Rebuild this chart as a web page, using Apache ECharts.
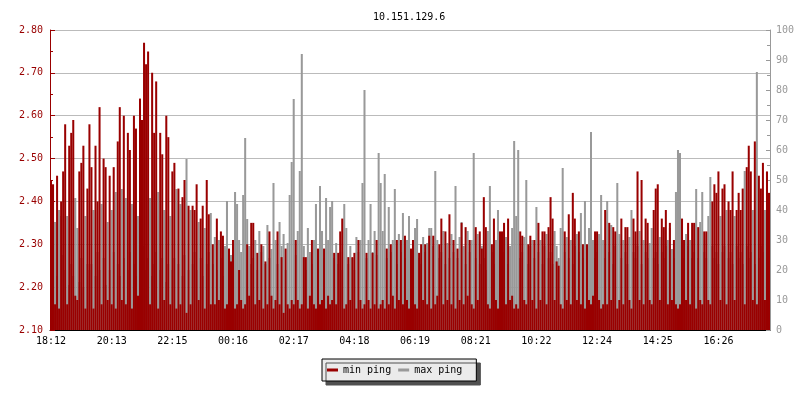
<!DOCTYPE html>
<html>
<head>
<meta charset="utf-8">
<script src="https://cdn.jsdelivr.net/npm/echarts@6/dist/echarts.min.js"></script>
<style>
html, body { margin: 0; padding: 0; background: #fff; }
#chart { width: 800px; height: 400px; }
</style>
</head>
<body>
<div id="chart"></div>
<script>
// time labels shown every 30 samples
var tickLabels = ['18:12', '20:13', '22:15', '00:16', '02:17', '04:18', '06:19', '08:21', '10:22', '12:24', '14:25', '16:26']
var tickEvery = 30

// min ping (left axis)
var minPing = [
  2.45, 2.44, 2.16, 2.46, 2.15, 2.40, 2.47, 2.58, 2.16, 2.53, 2.56, 2.59, 2.18, 2.17, 2.47, 2.49, 2.53, 2.15, 2.43, 2.58,
  2.48, 2.15, 2.53, 2.40, 2.62, 2.16, 2.50, 2.48, 2.17, 2.46, 2.16, 2.48, 2.15, 2.54, 2.62, 2.17, 2.60, 2.16, 2.56, 2.52,
  2.15, 2.60, 2.57, 2.18, 2.64, 2.59, 2.77, 2.72, 2.75, 2.16, 2.70, 2.56, 2.68, 2.15, 2.56, 2.51, 2.17, 2.60, 2.55, 2.16,
  2.47, 2.49, 2.15, 2.43, 2.16, 2.41, 2.45, 2.14, 2.39, 2.16, 2.39, 2.38, 2.44, 2.17, 2.36, 2.39, 2.15, 2.45, 2.37, 2.16,
  2.30, 2.16, 2.36, 2.17, 2.33, 2.32, 2.15, 2.16, 2.29, 2.26, 2.31, 2.15, 2.16, 2.24, 2.17, 2.15, 2.16, 2.30, 2.18, 2.35,
  2.35, 2.16, 2.28, 2.17, 2.30, 2.15, 2.26, 2.16, 2.33, 2.18, 2.15, 2.17, 2.33, 2.16, 2.27, 2.14, 2.29, 2.16, 2.15, 2.17,
  2.16, 2.31, 2.17, 2.15, 2.16, 2.27, 2.27, 2.15, 2.18, 2.31, 2.16, 2.15, 2.29, 2.16, 2.17, 2.29, 2.15, 2.18, 2.16, 2.17,
  2.28, 2.16, 2.28, 2.33, 2.36, 2.15, 2.16, 2.27, 2.17, 2.27, 2.28, 2.15, 2.31, 2.17, 2.15, 2.16, 2.28, 2.17, 2.15, 2.28,
  2.16, 2.31, 2.15, 2.16, 2.17, 2.15, 2.29, 2.16, 2.30, 2.18, 2.15, 2.31, 2.17, 2.31, 2.16, 2.32, 2.17, 2.15, 2.29, 2.31,
  2.16, 2.15, 2.28, 2.30, 2.17, 2.30, 2.16, 2.32, 2.15, 2.32, 2.16, 2.18, 2.30, 2.36, 2.16, 2.33, 2.17, 2.37, 2.16, 2.31,
  2.15, 2.29, 2.17, 2.35, 2.16, 2.34, 2.18, 2.31, 2.16, 2.15, 2.34, 2.17, 2.33, 2.29, 2.41, 2.34, 2.16, 2.15, 2.30, 2.36,
  2.17, 2.15, 2.33, 2.33, 2.35, 2.16, 2.36, 2.17, 2.18, 2.15, 2.16, 2.15, 2.33, 2.32, 2.17, 2.16, 2.30, 2.32, 2.17, 2.31,
  2.15, 2.35, 2.17, 2.33, 2.33, 2.16, 2.34, 2.41, 2.36, 2.17, 2.26, 2.25, 2.16, 2.15, 2.33, 2.17, 2.37, 2.16, 2.42, 2.36,
  2.17, 2.33, 2.16, 2.30, 2.15, 2.30, 2.17, 2.16, 2.18, 2.33, 2.33, 2.17, 2.15, 2.16, 2.38, 2.16, 2.35, 2.17, 2.34, 2.33,
  2.15, 2.17, 2.36, 2.16, 2.34, 2.34, 2.17, 2.15, 2.36, 2.33, 2.47, 2.17, 2.45, 2.16, 2.36, 2.35, 2.17, 2.16, 2.38, 2.43,
  2.44, 2.17, 2.36, 2.34, 2.38, 2.16, 2.35, 2.17, 2.31, 2.16, 2.15, 2.16, 2.36, 2.31, 2.17, 2.35, 2.16, 2.35, 2.35, 2.15,
  2.34, 2.17, 2.16, 2.33, 2.33, 2.17, 2.16, 2.40, 2.44, 2.42, 2.47, 2.17, 2.43, 2.44, 2.16, 2.40, 2.38, 2.47, 2.17, 2.38,
  2.42, 2.38, 2.43, 2.16, 2.48, 2.53, 2.47, 2.17, 2.54, 2.16, 2.46, 2.43, 2.49, 2.17, 2.47, 2.42
]

// max ping (right axis)
var maxPing = [
  20, 24, 36, 18, 40, 38, 25, 20, 38, 15, 22, 18, 44, 34, 16, 24, 14, 38, 22, 20,
  22, 40, 18, 26, 20, 42, 24, 15, 36, 20, 40, 26, 46, 22, 18, 47, 24, 44, 20, 26,
  42, 22, 18, 38, 20, 25, 28, 20, 24, 44, 18, 22, 26, 46, 20, 24, 40, 16, 22, 38,
  20, 24, 47, 22, 42, 18, 25, 57, 20, 40, 22, 26, 20, 36, 24, 18, 34, 22, 26, 39,
  22, 31, 20, 30, 24, 18, 28, 43, 20, 25, 22, 46, 42, 30, 26, 45, 64, 37, 28, 22,
  24, 30, 20, 33, 26, 28, 22, 35, 24, 27, 49, 30, 22, 36, 28, 32, 20, 29, 45, 56,
  77, 25, 33, 53, 92, 28, 20, 34, 26, 22, 30, 42, 27, 48, 33, 24, 44, 30, 41, 43,
  24, 29, 22, 26, 20, 42, 34, 22, 28, 24, 20, 31, 26, 30, 49, 80, 24, 30, 42, 26,
  33, 25, 59, 49, 33, 52, 24, 41, 26, 30, 47, 22, 32, 26, 39, 24, 30, 38, 22, 28,
  34, 37, 24, 22, 31, 26, 29, 34, 34, 28, 53, 30, 24, 26, 33, 22, 29, 24, 32, 26,
  48, 24, 31, 36, 28, 22, 33, 26, 30, 59, 24, 32, 22, 28, 24, 20, 33, 48, 26, 22,
  30, 40, 24, 20, 26, 31, 22, 28, 34, 63, 38, 60, 24, 26, 31, 50, 22, 28, 30, 24,
  41, 26, 30, 22, 28, 32, 24, 26, 22, 33, 28, 24, 34, 54, 26, 31, 24, 30, 22, 28,
  32, 26, 39, 24, 43, 28, 34, 66, 30, 24, 26, 32, 45, 30, 24, 43, 26, 35, 22, 28,
  49, 32, 24, 30, 26, 22, 31, 40, 26, 24, 28, 33, 22, 30, 26, 24, 29, 34, 24, 26,
  22, 31, 26, 24, 28, 30, 34, 27, 24, 46, 60, 59, 26, 24, 32, 28, 30, 24, 26, 47,
  24, 36, 46, 26, 24, 38, 51, 28, 24, 26, 22, 38, 26, 28, 40, 24, 26, 22, 38, 28,
  24, 26, 22, 53, 28, 24, 26, 40, 22, 86, 24, 28, 26, 40, 24, 26
]

var font = 'DejaVu Sans Mono'
var red = '#990000'
var grey = '#999999'

// one category per sample, labelled only where a time tick falls
var categories = minPing.map(function (v, i) {
  return i % tickEvery === 0 ? (tickLabels[i / tickEvery] || '') : ''
})
var showTick = function (i) { return i % tickEvery === 0 }

var chart = echarts.init(document.getElementById('chart'))
chart.setOption({
  animation: false,
  title: {
    text: '10.151.129.6',
    left: 368,
    top: 7,
    textStyle: { fontFamily: font, fontSize: 10, fontWeight: 'normal', color: '#000' }
  },
  legend: {
    left: 322,
    top: 359,
    data: ['min ping', 'max ping'],
    icon: 'rect',
    itemWidth: 11,
    itemHeight: 3,
    itemGap: 7,
    padding: [6, 14, 6, 5],
    backgroundColor: '#ebebeb',
    borderColor: '#000',
    borderWidth: 1,
    borderRadius: 0,
    shadowColor: '#505050',
    shadowBlur: 0,
    shadowOffsetX: 4,
    shadowOffsetY: 4,
    selectedMode: false,
    textStyle: { fontFamily: font, fontSize: 10, color: '#000' }
  },
  grid: { left: 50, right: 30, top: 30, bottom: 70 },
  xAxis: {
    type: 'category',
    data: categories,
    boundaryGap: true,
    axisLine: { lineStyle: { color: '#000', width: 1 } },
    axisTick: { inside: true, length: 5, alignWithLabel: true, interval: showTick, lineStyle: { color: '#000' } },
    axisLabel: { interval: showTick, color: '#000', fontFamily: font, fontSize: 10, margin: 6 },
    splitLine: { show: false }
  },
  yAxis: [
    {
      type: 'value',
      min: 2.1,
      max: 2.8,
      interval: 0.1,
      axisLine: { show: true, lineStyle: { color: red } },
      axisTick: { show: true, inside: true, length: 5, lineStyle: { color: red } },
      minorTick: { show: true, splitNumber: 2, length: 3, lineStyle: { color: red } },
      axisLabel: {
        color: red, fontFamily: font, fontSize: 10, margin: 7,
        formatter: function (v) { return v.toFixed(2) }
      },
      splitLine: { show: true, lineStyle: { color: '#bbbbbb', width: 1 } }
    },
    {
      type: 'value',
      min: 0,
      max: 100,
      interval: 10,
      position: 'right',
      axisLine: { show: true, lineStyle: { color: grey } },
      axisTick: { show: true, inside: true, length: 4, lineStyle: { color: grey } },
      minorTick: { show: true, splitNumber: 2, length: 3, lineStyle: { color: grey } },
      axisLabel: { color: grey, fontFamily: font, fontSize: 10, margin: 6 },
      splitLine: { show: false }
    }
  ],
  series: [
    {
      name: 'max ping',
      type: 'bar',
      yAxisIndex: 1,
      data: maxPing,
      barWidth: '100%',
      barGap: '-100%',
      itemStyle: { color: grey },
      emphasis: { disabled: true }
    },
    {
      name: 'min ping',
      type: 'bar',
      yAxisIndex: 0,
      data: minPing,
      barWidth: '100%',
      barGap: '-100%',
      itemStyle: { color: red },
      emphasis: { disabled: true }
    }
  ]
})
</script>
</body>
</html>
